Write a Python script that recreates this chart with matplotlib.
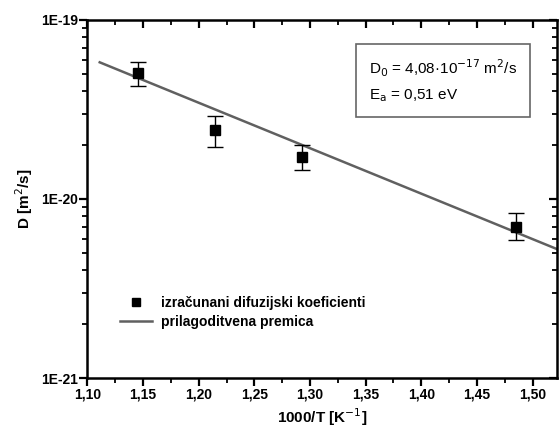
import matplotlib.pyplot as plt
import matplotlib.ticker as mticker
from matplotlib.lines import Line2D, TICKDOWN, TICKLEFT
import numpy as np

plt.rcParams['font.family'] = ['Liberation Sans', 'DejaVu Sans']
plt.rcParams['font.size'] = 10

# measured points
x_pts = [1.145, 1.215, 1.293, 1.485]
d_pts = [5.05e-20, 2.43e-20, 1.72e-20, 6.95e-21]
d_hi = [5.8e-20, 2.9e-20, 2.0e-20, 8.3e-21]
d_lo = [4.3e-20, 1.95e-20, 1.45e-20, 5.9e-21]

# fitted line end points
fit_x = [1.111, 1.522]
fit_d = [5.8e-20, 5.25e-21]

xticks = [1.10, 1.15, 1.20, 1.25, 1.30, 1.35, 1.40, 1.45, 1.50]
xtick_labels = ['1,10', '1,15', '1,20', '1,25', '1,30', '1,35', '1,40', '1,45', '1,50']
yticks = [1e-21, 1e-20, 1e-19]
ytick_labels = ['1E-21', '1E-20', '1E-19']

fig = plt.figure(figsize=(5.59, 4.34), dpi=100)
ax = fig.add_axes([0.1565, 0.129, 0.8399, 0.825])

ax.plot(fit_x, fit_d, color='#606060', linewidth=1.8, zorder=2)
yerr = [np.array(d_pts) - np.array(d_lo), np.array(d_hi) - np.array(d_pts)]
ax.errorbar(x_pts, d_pts, yerr=yerr, fmt='s', color='black', markersize=7,
            ecolor='black', elinewidth=1.0, capsize=6, capthick=1.0, zorder=3)

ax.set_yscale('log')
ax.set_xlim(1.10, 1.522)
ax.set_ylim(1e-21, 1e-19)
ax.set_xticks(xticks)
ax.set_xticklabels(xtick_labels, fontweight='bold')
ax.xaxis.set_minor_locator(mticker.MultipleLocator(0.025))
ax.set_yticks(yticks)
ax.set_yticklabels(ytick_labels, fontweight='bold')
ax.yaxis.set_minor_locator(mticker.LogLocator(base=10, subs=np.arange(2, 10)))
ax.yaxis.set_minor_formatter(mticker.NullFormatter())

for s in ax.spines.values():
    s.set_linewidth(1.8)

# ticks on all four sides, pointing inward
ax.tick_params(which='major', direction='in', length=6, width=1.6, labelsize=10, pad=7,
               top=True, right=True, bottom=True, left=True)
ax.tick_params(which='minor', direction='in', length=3.5, width=1.3,
               top=True, right=True, bottom=True, left=True)
# bottom / left ticks turned outward, as in the reference
for t in ax.xaxis.get_major_ticks() + ax.xaxis.get_minor_ticks():
    t.tick1line.set_marker(TICKDOWN)
for t in ax.yaxis.get_major_ticks() + ax.yaxis.get_minor_ticks():
    t.tick1line.set_marker(TICKLEFT)

ax.set_xlabel('1000/T [K$^{-1}$]', fontsize=11, fontweight='bold', labelpad=3)
ax.set_ylabel('D [m$^2$/s]', fontsize=11, fontweight='bold', labelpad=4)

handles = [Line2D([], [], marker='s', color='black', linestyle='none', markersize=6),
           Line2D([], [], color='#606060', linewidth=1.8)]
labels = ['izračunani difuzijski koeficienti', 'prilagoditvena premica']
ax.legend(handles, labels, loc='upper left', bbox_to_anchor=(0.058, 0.245),
          frameon=False, handlelength=2.3, handletextpad=0.6, borderaxespad=0,
          labelspacing=0.35, prop={'weight': 'bold', 'size': 10})

ax.text(0.600, 0.83, 'D$_0$ = 4,08·10$^{-17}$ m$^2$/s\nE$_\\mathrm{a}$ = 0,51 eV',
        transform=ax.transAxes, fontsize=11, va='center', ha='left', linespacing=1.75,
        bbox=dict(boxstyle='square,pad=0.85', facecolor='white', edgecolor='#666666', linewidth=1.2))

fig.savefig('out.png', dpi=100, facecolor='white')
